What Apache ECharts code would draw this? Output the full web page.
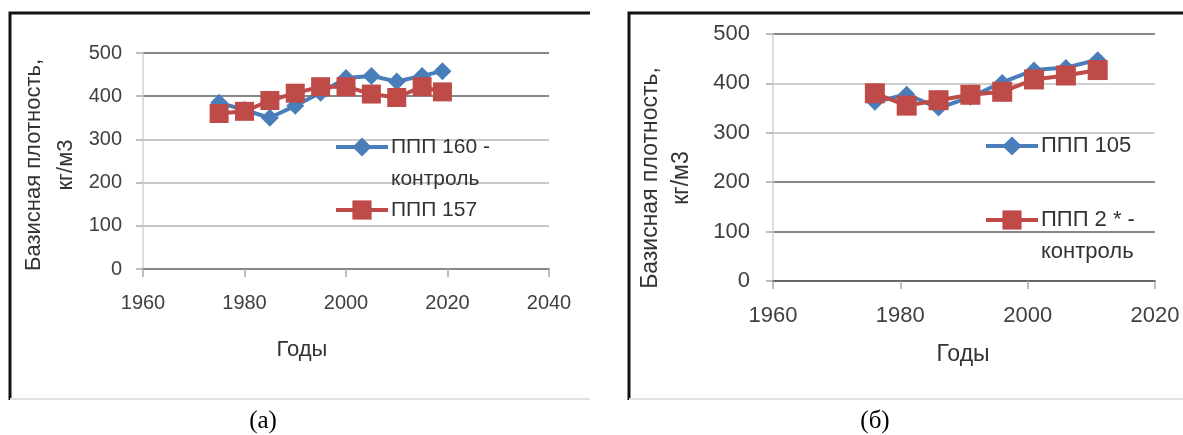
<!DOCTYPE html>
<html>
<head>
<meta charset="utf-8">
<script src="https://cdn.jsdelivr.net/npm/echarts@6/dist/echarts.min.js"></script>
<style>
html,body{margin:0;padding:0;background:#fff}
#chart{width:1183px;height:435px}
</style>
</head>
<body>
<div id="chart"></div>
<script>
// panel (а)
var yearsA = [1975, 1980, 1985, 1990, 1995, 2000, 2005, 2010, 2015, 2019];
var ppp160 = [385, 368, 350, 378, 408, 442, 447, 434, 447, 458];
var ppp157 = [360, 365, 390, 407, 422, 422, 405, 397, 422, 410];
// panel (б)
var yearsB = [1976, 1981, 1986, 1991, 1996, 2001, 2006, 2011];
var ppp105 = [362, 378, 350, 372, 402, 427, 432, 448];
var ppp2 = [380, 355, 366, 377, 383, 408, 416, 427];

var yTicks = [0, 100, 200, 300, 400, 500];
var xTicksA = [1960, 1980, 2000, 2020, 2040];
var xTicksB = [1960, 1980, 2000, 2020];

var BLUE = '#4a7ebb', RED = '#be4b48';
var FONT = 'Liberation Sans';

function pairs(xs, ys) {
  return xs.map(function(x, i) { return [x, ys[i]]; });
}

function xAxisCfg(idx, ticks, fs) {
  return {
    type: 'value', gridIndex: idx,
    min: ticks[0], max: ticks[ticks.length - 1], interval: 20,
    axisLine: {lineStyle: {color: idx ? '#666' : '#888', width: 2}},
    axisTick: {show: true, length: 8, lineStyle: {color: '#aaa', width: 1.5}},
    axisLabel: {margin: 24, fontFamily: FONT, fontSize: fs, color: '#404040',
      formatter: function(v) { return String(v); }},
    splitLine: {show: false}
  };
}

function yAxisCfg(idx, colors, fs, margin) {
  return {
    type: 'value', gridIndex: idx,
    min: yTicks[0], max: yTicks[yTicks.length - 1], interval: 100,
    axisLine: {show: true, lineStyle: {color: '#d0d0d0', width: 1.5}},
    axisTick: {show: true, length: 7, lineStyle: {color: '#aaa', width: 1.5}},
    axisLabel: {margin: margin, fontFamily: FONT, fontSize: fs, color: '#404040'},
    splitLine: {show: true, lineStyle: {color: colors, width: 2}}
  };
}

function lineSeries(name, idx, xs, ys, color, symbol, size) {
  return {
    name: name, type: 'line', xAxisIndex: idx, yAxisIndex: idx,
    data: pairs(xs, ys),
    symbol: symbol, symbolSize: size,
    lineStyle: {color: color, width: 4},
    itemStyle: {color: color},
    animation: false
  };
}

function legendCfg(name, left, top, fs, text) {
  return {
    data: [name], left: left, top: top, orient: 'vertical',
    padding: 0, itemWidth: 52, itemHeight: 24, itemGap: 0,
    selectedMode: false,
    lineStyle: {width: 4},
    formatter: function() { return text; },
    textStyle: {fontFamily: FONT, fontSize: fs, color: '#333', lineHeight: 32, padding: [0, 0, 0, -2]}
  };
}

var chart = echarts.init(document.getElementById('chart'));

chart.setOption({
  backgroundColor: '#fff',
  grid: [
    {left: 143, right: 1183 - 549, top: 53, bottom: 435 - 269},
    {left: 773, right: 1183 - 1155, top: 34, bottom: 435 - 281}
  ],
  xAxis: [xAxisCfg(0, xTicksA, 20), xAxisCfg(1, xTicksB, 22)],
  yAxis: [
    yAxisCfg(0, ['#888', '#c8c8c8', '#c8c8c8', '#c8c8c8', '#888', '#888'], 20, 21),
    yAxisCfg(1, ['#777', '#888', '#888', '#cfcfcf', '#cfcfcf', '#888'], 22, 23)
  ],
  legend: [
    legendCfg('ППП 160 - контроль', 334, 99, 21, '\u00a0\nППП 160 -\nконтроль'),
    legendCfg('ППП 157', 334, 194, 21, 'ППП 157'),
    legendCfg('ППП 105', 984, 130, 22, 'ППП 105'),
    legendCfg('ППП 2 * - контроль', 984, 172, 22, '\u00a0\nППП 2 * -\nконтроль')
  ],
  series: [
    lineSeries('ППП 160 - контроль', 0, yearsA, ppp160, BLUE, 'diamond', 18),
    lineSeries('ППП 157', 0, yearsA, ppp157, RED, 'rect', 19),
    lineSeries('ППП 105', 1, yearsB, ppp105, BLUE, 'diamond', 17),
    lineSeries('ППП 2 * - контроль', 1, yearsB, ppp2, RED, 'rect', 20)
  ],
  graphic: [
    // panel frames
    {type: 'polyline', shape: {points: [[10, 400], [10, 13], [590, 13]]}, style: {stroke: '#111', lineWidth: 3, fill: null}},
    {type: 'line', shape: {x1: 10, y1: 399, x2: 590, y2: 399}, style: {stroke: '#e2e2e2', lineWidth: 2}},
    {type: 'polyline', shape: {points: [[629, 400], [629, 13], [1183, 13]]}, style: {stroke: '#111', lineWidth: 3, fill: null}},
    {type: 'line', shape: {x1: 629, y1: 399, x2: 1183, y2: 399}, style: {stroke: '#e2e2e2', lineWidth: 2}},
    // axis titles
    {type: 'text', x: 50, y: 165, rotation: Math.PI / 2,
      style: {text: 'Базисная плотность,\nкг/м3', fontFamily: FONT, fontSize: 22, lineHeight: 32, fill: '#333', align: 'center', verticalAlign: 'middle'}},
    {type: 'text', x: 666, y: 178, rotation: Math.PI / 2,
      style: {text: 'Базисная плотность,\nкг/м3', fontFamily: FONT, fontSize: 23, lineHeight: 31, fill: '#333', align: 'center', verticalAlign: 'middle'}},
    {type: 'text', x: 302, y: 350,
      style: {text: 'Годы', fontFamily: FONT, fontSize: 22, fill: '#333', align: 'center', verticalAlign: 'middle'}},
    {type: 'text', x: 963, y: 355,
      style: {text: 'Годы', fontFamily: FONT, fontSize: 23, fill: '#333', align: 'center', verticalAlign: 'middle'}},
    // captions
    {type: 'text', x: 263, y: 421,
      style: {text: '(а)', fontFamily: 'Liberation Serif', fontSize: 25, fill: '#000', align: 'center', verticalAlign: 'middle'}},
    {type: 'text', x: 875, y: 421,
      style: {text: '(б)', fontFamily: 'Liberation Serif', fontSize: 25, fill: '#000', align: 'center', verticalAlign: 'middle'}}
  ]
});
</script>
</body>
</html>
